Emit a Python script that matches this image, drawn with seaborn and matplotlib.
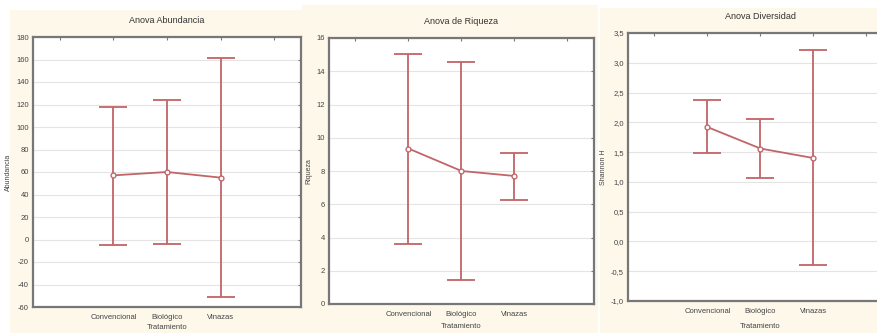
import numpy as np
import pandas as pd
import matplotlib
matplotlib.use("Agg")
import matplotlib.pyplot as plt
import seaborn as sns
from matplotlib.patches import Rectangle
from matplotlib.ticker import FuncFormatter

sns.set_style("white")
plt.rcParams["font.family"] = ["Liberation Sans Narrow", "Liberation Sans", "DejaVu Sans"]

# datos
tratamientos = ["Convencional", "Biológico", "Vinazas"]

abund_media = [57, 60, 55]
abund_inf = [-5, -4, -51]
abund_sup = [118, 124, 161]

riq_media = [9.35, 8.0, 7.7]
riq_inf = [3.6, 1.45, 6.25]
riq_sup = [15.05, 14.55, 9.1]

div_media = [1.92, 1.56, 1.40]
div_inf = [1.48, 1.07, -0.39]
div_sup = [2.37, 2.05, 3.21]

W, H = 878, 333
color = "#c26568"
fondo = "#fdf8ea"

fig = plt.figure(figsize=(W / 100, H / 100), dpi=100)
fig.patch.set_facecolor("white")

def px(l, t, r, b):
    # caja en pixeles -> fracción de figura
    return [l / W, (H - b) / H, (r - l) / W, (b - t) / H]

# fondos crema de cada captura
for (l, t, r, b) in [(10, 10, 302, 333), (302, 5, 598, 333), (600, 8, 878, 333)]:
    x0, y0, w, h = px(l, t, r, b)
    fig.patches.append(Rectangle((x0, y0), w, h, transform=fig.transFigure,
                                 facecolor=fondo, edgecolor="none", zorder=-10))

paneles = [
    ("Anova Abundancia", "Abundancia", abund_media, abund_inf, abund_sup,
     (-60, 180), np.arange(-60, 181, 20), False, px(33, 37, 301, 307), 2),
    ("Anova de Riqueza", "Riqueza", riq_media, riq_inf, riq_sup,
     (0, 16), np.arange(0, 17, 2), False, px(329, 38, 594, 304), 4),
    ("Anova Diversidad", "Shannon H", div_media, div_inf, div_sup,
     (-1.0, 3.5), np.arange(-1.0, 3.51, 0.5), True, px(628, 33, 893, 301), 6),
]

for titulo, ylab, media, inf, sup, ylim, yticks, coma, pos, xlpad in paneles:
    ax = fig.add_axes(pos)
    ax.set_facecolor("white")
    df = pd.DataFrame({"Tratamiento": tratamientos, "valor": media})
    sns.pointplot(data=df, x="Tratamiento", y="valor", order=tratamientos,
                  errorbar=None, color=color, markers="o", markersize=3.5,
                  linewidth=1.3, ax=ax)
    for line in ax.lines:
        line.set_markerfacecolor("white")
        line.set_markeredgecolor(color)
    xs = np.arange(len(tratamientos))
    m = np.array(media)
    ax.errorbar(xs, m, yerr=[m - np.array(inf), np.array(sup) - m], fmt="none",
                ecolor=color, elinewidth=1.3, capsize=10, capthick=1.3, zorder=1)

    ax.set_xlim(-1.5, 3.5)
    ax.set_xticks(np.arange(-1, 4))
    ax.set_xticklabels([""] + tratamientos + [""])
    ax.set_ylim(*ylim)
    ax.set_yticks(yticks)
    if coma:
        ax.yaxis.set_major_formatter(FuncFormatter(lambda v, p: f"{v:.1f}".replace(".", ",")))
    else:
        ax.yaxis.set_major_formatter(FuncFormatter(lambda v, p: f"{v:g}"))
    ax.grid(axis="y", color="#e4e4e4", linewidth=0.8)
    ax.set_axisbelow(True)
    ax.tick_params(axis="both", direction="in", length=2.5, width=0.8, color="#777777",
                   labelsize=5.5, labelcolor="#444444", top=True, right=True, pad=3)
    ax.tick_params(axis="x", pad=5)
    for s in ax.spines.values():
        s.set_color("#777777")
        s.set_linewidth(1.6)
    ax.set_title(titulo, fontsize=6.5, color="#333333", pad=10)
    ax.set_ylabel(ylab, fontsize=5, color="#444444", labelpad=3)
    ax.set_xlabel("Tratamiento", fontsize=5.5, color="#444444", labelpad=xlpad)

fig.savefig("out.png", dpi=100, facecolor=fig.get_facecolor())
